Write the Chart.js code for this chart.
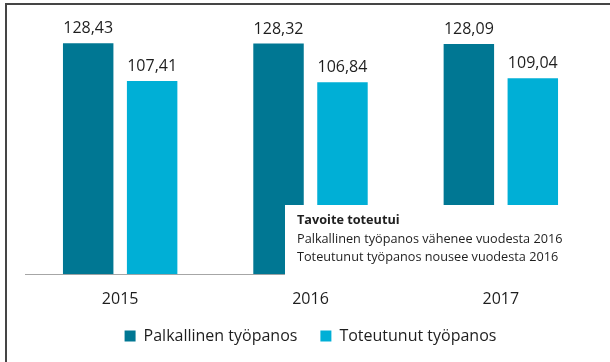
<!DOCTYPE html>
<html>
<head>
<meta charset="utf-8">
<script src="https://cdn.jsdelivr.net/npm/chart.js@4/dist/chart.umd.min.js"></script>
<style>
  html, body { margin: 0; padding: 0; background: #ffffff; }
  #wrap { position: relative; width: 610px; height: 362px; }
</style>
</head>
<body>
<div id="wrap"><canvas id="c" width="610" height="362"></canvas></div>
<script>
// Years on the x axis
const years = ['2015', '2016', '2017'];
// Paid labour input (Palkallinen työpanos)
const palkallinen = [128.43, 128.32, 128.09];
// Realised labour input (Toteutunut työpanos)
const toteutunut = [107.41, 106.84, 109.04];
// Series names
const seriesNames = ['Palkallinen työpanos', 'Toteutunut työpanos'];
// Note box text
const noteTitle = 'Tavoite toteutui';
const noteLines = ['Palkallinen työpanos vähenee vuodesta 2016', 'Toteutunut työpanos nousee vuodesta 2016'];

const FONT = '"Open Sans", "Noto Sans", sans-serif';
const TEXT = '#1e1e1e';

const fmt = v => v.toFixed(2).replace('.', ',');

// Value labels above every bar
const valueLabels = {
  id: 'valueLabels',
  afterDatasetsDraw(chart) {
    const ctx = chart.ctx;
    ctx.save();
    ctx.font = '16px ' + FONT;
    ctx.fillStyle = TEXT;
    ctx.textAlign = 'center';
    ctx.textBaseline = 'alphabetic';
    chart.data.datasets.forEach((ds, di) => {
      chart.getDatasetMeta(di).data.forEach((bar, i) => {
        ctx.fillText(fmt(ds.data[i]), bar.x, bar.y - 10);
      });
    });
    ctx.restore();
  }
};

// Note box laid over the lower right part of the plot, plus the outer frame
const noteAndFrame = {
  id: 'noteAndFrame',
  afterDraw(chart) {
    const ctx = chart.ctx;
    ctx.save();
    ctx.fillStyle = '#ffffff';
    ctx.fillRect(285, 205, 320, 75);
    ctx.fillStyle = TEXT;
    ctx.textAlign = 'left';
    ctx.textBaseline = 'alphabetic';
    ctx.font = 'bold 12.7px ' + FONT;
    ctx.fillText(noteTitle, 297, 224);
    ctx.font = '12.7px ' + FONT;
    noteLines.forEach((t, i) => ctx.fillText(t, 297, 243 + i * 18));
    // frame: top and left edges
    ctx.fillStyle = '#454545';
    ctx.fillRect(5, 3, 605, 2);
    ctx.fillRect(5, 3, 2, 359);
    ctx.restore();
  }
};

new Chart(document.getElementById('c'), {
  type: 'bar',
  data: {
    labels: years,
    datasets: [
      { label: seriesNames[0], data: palkallinen, backgroundColor: '#007793', borderWidth: 0 },
      { label: seriesNames[1], data: toteutunut, backgroundColor: '#00afd6', borderWidth: 0 }
    ]
  },
  options: {
    responsive: false,
    animation: false,
    devicePixelRatio: 1,
    datasets: { bar: { categoryPercentage: 0.672, barPercentage: 0.789 } },
    layout: { padding: { left: 25, right: 14, top: 22.5, bottom: 8 } },
    plugins: {
      legend: {
        position: 'bottom',
        labels: {
          boxWidth: 11,
          boxHeight: 11,
          padding: 23,
          color: TEXT,
          font: { family: FONT, size: 16 }
        }
      },
      tooltip: { enabled: false }
    },
    scales: {
      x: {
        grid: { display: false, drawTicks: false },
        border: { display: true, color: '#a6a6a6', width: 1 },
        ticks: { color: TEXT, padding: 16, font: { family: FONT, size: 16 } },
        afterFit(scale) { scale.height = 30.7; }
      },
      y: {
        display: false,
        min: 0,
        max: 140
      }
    }
  },
  plugins: [valueLabels, noteAndFrame]
});
</script>
</body>
</html>
